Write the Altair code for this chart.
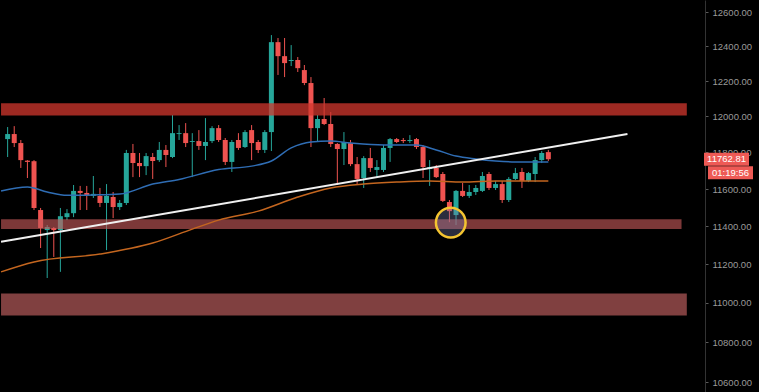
import altair as alt
import pandas as pd

# ---- candles: bar index 0..82 (OHLC in USD) ----
opens = [11874, 11902, 11852, 11755, 11752, 11487, 11380, 11391, 11380, 11449,
         11470, 11590, 11579, 11563, 11563, 11525, 11557, 11503, 11525, 11797,
         11742, 11725, 11775, 11758, 11814, 11775, 11902, 11907, 11858, 11863,
         11836, 11863, 11935, 11869, 11748, 11869, 11830, 11924, 11858, 11814,
         11913, 12424, 12343, 12315, 12321, 12263, 12189, 11935, 11986, 11958,
         11847, 11819, 11852, 11736, 11660, 11769, 11704, 11704, 11825, 11874,
         11869, 11863, 11874, 11830, 11709, 11715, 11682, 11530, 11460, 11590,
         11563, 11584, 11590, 11682, 11606, 11627, 11541, 11655, 11693, 11644,
         11682, 11758, 11802]
highs = [11941, 11946, 11869, 11758, 11758, 11498, 11407, 11396, 11498, 11492,
         11622, 11617, 11617, 11671, 11606, 11627, 11584, 11541, 11814, 11847,
         11797, 11797, 11797, 11858, 11841, 12008, 11952, 11963, 11907, 11924,
         11991, 11946, 11952, 11880, 11869, 11907, 11924, 11952, 11869, 11924,
         12465, 12448, 12448, 12407, 12338, 12292, 12223, 12008, 12104, 12025,
         11852, 11913, 11869, 11775, 11780, 11825, 11758, 11841, 11880, 11880,
         11880, 11896, 11880, 11841, 11758, 11731, 11693, 11541, 11595, 11633,
         11622, 11622, 11693, 11693, 11644, 11644, 11665, 11715, 11715, 11693,
         11775, 11808, 11814]
lows = [11775, 11830, 11715, 11660, 11487, 11285, 11128, 11238, 11160, 11433,
        11449, 11487, 11487, 11552, 11503, 11274, 11444, 11487, 11514, 11665,
        11665, 11676, 11655, 11748, 11720, 11769, 11869, 11830, 11665, 11814,
        11758, 11852, 11858, 11731, 11693, 11814, 11825, 11758, 11797, 11797,
        11808, 12235, 12223, 12286, 12252, 12177, 11830, 11858, 11952, 11830,
        11622, 11731, 11725, 11622, 11606, 11693, 11660, 11693, 11748, 11852,
        11852, 11852, 11819, 11660, 11617, 11660, 11530, 11422, 11407, 11557,
        11552, 11568, 11584, 11595, 11595, 11525, 11530, 11649, 11606, 11638,
        11638, 11742, 11753]
closes = [11902, 11852, 11758, 11748, 11498, 11391, 11396, 11380, 11454, 11470,
          11590, 11579, 11568, 11574, 11525, 11563, 11503, 11525, 11797, 11742,
          11725, 11780, 11753, 11814, 11786, 11907, 11907, 11852, 11863, 11836,
          11858, 11935, 11869, 11748, 11858, 11825, 11913, 11852, 11814, 11913,
          12424, 12343, 12303, 12321, 12274, 12189, 11935, 11986, 11958, 11847,
          11819, 11858, 11736, 11655, 11769, 11715, 11720, 11825, 11874, 11858,
          11863, 11869, 11830, 11720, 11720, 11665, 11536, 11481, 11590, 11563,
          11584, 11606, 11671, 11606, 11627, 11541, 11655, 11687, 11644, 11687,
          11758, 11797, 11762.81]

# ---- moving averages ----
ma_fast_idx = [-1, 3, 6, 9, 13, 17, 22, 26, 32, 37, 40, 43, 46, 49, 52, 57, 62,
               65, 68, 71, 74, 77, 80, 82]
ma_fast_val = [11590, 11611, 11584, 11566, 11568, 11573, 11627, 11652, 11706,
               11725, 11753, 11825, 11858, 11863, 11852, 11841, 11841, 11814,
               11780, 11764, 11753, 11748, 11748, 11748]
ma_slow_idx = [-1, 4, 14, 22, 28, 32, 38, 44, 49, 54, 59, 64, 69, 74, 82]
ma_slow_val = [11160, 11212, 11253, 11311, 11385, 11433, 11481, 11557, 11606,
               11627, 11638, 11644, 11638, 11644, 11644]

# ---- drawings ----
trend_idx = [-1, 94]
trend_val = [11318, 11902]

zone_lo = [12005, 11385, 10935]
zone_hi = [12075, 11437, 11048]
zone_start = [-1, -1, -1]
zone_end = [103.0, 102.2, 103.0]
zone_fill = ["#d2372d", "#c85a5a", "#c86464"]
zone_alpha = [0.75, 0.62, 0.64]

circle_idx = [67.2]
circle_price = [11420]

last_price = 11762.81
countdown = "01:19:56"

tick_values = [10600, 10800, 11000, 11200, 11400, 11600, 11800, 12000, 12200,
               12400, 12600]

TEAL = "#26a69a"
RED = "#ef5350"

candles = pd.DataFrame({"i": list(range(len(opens))), "open": opens,
                        "high": highs, "low": lows, "close": closes})
fast = pd.DataFrame({"i": ma_fast_idx, "v": ma_fast_val})
slow = pd.DataFrame({"i": ma_slow_idx, "v": ma_slow_val})
trend = pd.DataFrame({"i": trend_idx, "v": trend_val})
zones = pd.DataFrame({"x0": zone_start, "x1": zone_end, "lo": zone_lo,
                      "hi": zone_hi, "fill": zone_fill, "alpha": zone_alpha})
circle = pd.DataFrame({"i": circle_idx, "v": circle_price})
last = pd.DataFrame({"v": [last_price], "price": [f"{last_price:.2f}"],
                     "timer": [countdown]})

x_scale = alt.Scale(domain=[-0.4, 105.0], nice=False, zero=False)
y_scale = alt.Scale(type="log", domain=[10551, 12671], nice=False, zero=False)
y_axis = alt.Axis(orient="right", title=None, values=tick_values, format=".2f",
                  labelColor="#9a9a9a", labelFontSize=9.5,
                  labelFont="Liberation Sans", tickColor="#5a5a5a",
                  tickSize=3, labelPadding=4, domainColor="#333333",
                  grid=False, labelFlush=False)


def X(field):
    return alt.X(field, type="quantitative", scale=x_scale, axis=None)


def Y(field):
    return alt.Y(field, type="quantitative", scale=y_scale, axis=y_axis)


up = "datum.close >= datum.open"
candle_color = alt.condition(up, alt.value(TEAL), alt.value(RED))

wicks = alt.Chart(candles).mark_rule(strokeWidth=1, clip=True).encode(
    x=X("i"), y=Y("low"), y2="high", color=candle_color)
bodies = alt.Chart(candles).mark_bar(size=5, clip=True).encode(
    x=X("i"), y=Y("open"), y2="close", color=candle_color)

zone_layer = alt.Chart(zones).mark_rect(clip=True).encode(
    x=X("x0"), x2="x1", y=Y("lo"), y2="hi",
    color=alt.Color("fill:N", scale=None),
    opacity=alt.Opacity("alpha:Q", scale=None))

fast_line = alt.Chart(fast).mark_line(
    color="#2f6db4", strokeWidth=1.5, interpolate="monotone", clip=True
).encode(x=X("i"), y=Y("v"))
slow_line = alt.Chart(slow).mark_line(
    color="#c4661f", strokeWidth=1.5, interpolate="monotone", clip=True
).encode(x=X("i"), y=Y("v"))
trend_line = alt.Chart(trend).mark_line(
    color="#f0f0f0", strokeWidth=2, clip=True
).encode(x=X("i"), y=Y("v"))

ring = alt.Chart(circle).mark_point(
    shape="circle", size=880, filled=True, fill="#7a80b0", fillOpacity=0.35,
    stroke="#f4c430", strokeWidth=2.5, strokeOpacity=1, opacity=1
).encode(x=X("i"), y=Y("v"))

# last-price and countdown tags in the price-scale gutter
tag_price = alt.Chart(last).mark_rule(
    color="#ee5a55", strokeWidth=13, strokeCap="butt"
).encode(x=alt.value(704), x2=alt.value(749), y=Y("v"))
tag_timer = alt.Chart(last).mark_rule(
    color="#ee5a55", strokeWidth=13, strokeCap="butt", yOffset=13.5
).encode(x=alt.value(708), x2=alt.value(753), y=Y("v"))
txt_price = alt.Chart(last).mark_text(
    color="#ffffff", fontSize=9.5, font="Liberation Sans", align="center",
    baseline="middle"
).encode(x=alt.value(726.5), y=Y("v"), text="price:N")
txt_timer = alt.Chart(last).mark_text(
    color="#ffffff", fontSize=9.5, font="Liberation Sans", align="center",
    baseline="middle", dy=13.5
).encode(x=alt.value(730.5), y=Y("v"), text="timer:N")

chart = alt.layer(
    wicks, bodies, zone_layer, fast_line, slow_line, trend_line, ring,
    tag_price, tag_timer, txt_price, txt_timer
).properties(
    width=705, height=392,
    padding={"left": 0, "right": 54, "top": 0, "bottom": 0},
    autosize=alt.AutoSizeParams(type="none"),
    background="#000000",
).configure_view(stroke=None)

chart.save("out.html", embed_options={"renderer": "svg", "actions": False})
